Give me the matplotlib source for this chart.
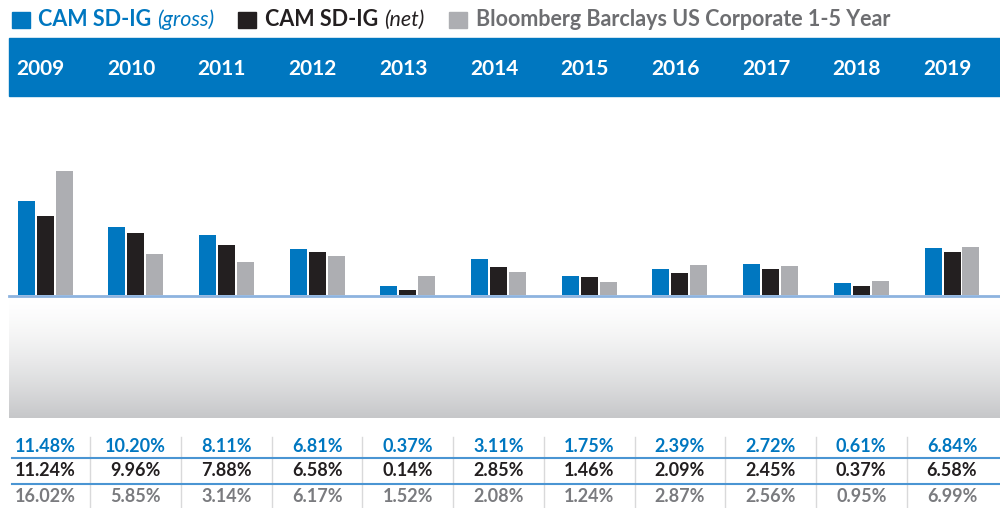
import matplotlib
matplotlib.use("Agg")
import matplotlib.pyplot as plt
import matplotlib.transforms as mtransforms
from matplotlib.patches import Rectangle
import numpy as np

plt.rcParams['font.family'] = ['Lato', 'DejaVu Sans']

# Data
years = ['2009', '2010', '2011', '2012', '2013', '2014', '2015', '2016', '2017', '2018', '2019']

# values printed in the table
gross_txt = ['11.48%', '10.20%', '8.11%', '6.81%', '0.37%', '3.11%', '1.75%', '2.39%', '2.72%', '0.61%', '6.84%']
net_txt = ['11.24%', '9.96%', '7.88%', '6.58%', '0.14%', '2.85%', '1.46%', '2.09%', '2.45%', '0.37%', '6.58%']
bench_txt = ['16.02%', '5.85%', '3.14%', '6.17%', '1.52%', '2.08%', '1.24%', '2.87%', '2.56%', '0.95%', '6.99%']

# bar heights as drawn in the picture (not strictly proportional to the table)
gross_bar = [12.14, 8.79, 7.75, 5.94, 1.16, 4.65, 2.45, 3.36, 4.01, 1.55, 6.07]
net_bar = [10.21, 8.01, 6.46, 5.56, 0.65, 3.62, 2.33, 2.84, 3.36, 1.16, 5.56]
bench_bar = [16.02, 5.30, 4.26, 5.04, 2.45, 2.97, 1.68, 3.88, 3.75, 1.81, 6.20]

series_names = ['CAM SD-IG', 'CAM SD-IG', 'Bloomberg Barclays US Corporate 1-5 Year']
series_notes = ['(gross)', '(net)', '']

BLUE = '#0077c0'
BLACK = '#231f20'
GREY = '#adaeb2'
GREY_TXT = '#7a7b7f'

W, H = 1000, 508
fig = plt.figure(figsize=(W / 100, H / 100), dpi=100)

def fy(py):
    # pixel row from top -> figure fraction
    return 1 - py / H

# header band
fig.patches.append(Rectangle((9 / W, fy(96)), 1 - 9 / W, (96 - 38) / H,
                             transform=fig.transFigure, color=BLUE, zorder=-1))

# gradient box below the baseline
gax = fig.add_axes([9 / W, fy(418), 1 - 9 / W, (418 - 297) / H])
t = np.linspace(0, 1, 200) ** 1.5
top = np.array([1.0, 1.0, 1.0])
bot = np.array([0xc6, 0xc7, 0xc9]) / 255
grad = top[None, :] * (1 - t[:, None]) + bot[None, :] * t[:, None]
gax.imshow(grad[:, None, :], aspect='auto', extent=[0, 1, 0, 1])
gax.axis('off')

# bar axes
ax = fig.add_axes([0, fy(295), 1, (295 - 96) / H])
step = 90.7
x0 = 45
ax.set_xlim(-x0 / step, (W - x0) / step)
ax.set_ylim(0, 199 / 7.74)
ax.axis('off')

x = np.arange(len(years))
bw = 17 / step
off = 19 / step
ax.bar(x - off, gross_bar, bw, color=BLUE, zorder=2)
ax.bar(x, net_bar, bw, color=BLACK, zorder=2)
ax.bar(x + off, bench_bar, bw, color=GREY, zorder=2)

# baseline
fig.add_artist(plt.Line2D([9 / W, 1], [fy(296), fy(296)], color='#8db3df', lw=2,
                          transform=fig.transFigure))

tr = mtransforms.blended_transform_factory(ax.transData, fig.transFigure)

# years in the header
for i, yr in enumerate(years):
    ax.text(i - 0.05, fy(69), yr, transform=tr, ha='center', va='center',
            color='white', fontsize=15, fontweight='bold')

# table rows
rows = [(gross_txt, BLUE, 446), (net_txt, BLACK, 471), (bench_txt, GREY_TXT, 497)]
for vals, col, py in rows:
    for i, v in enumerate(vals):
        ax.text(i, fy(py), v, transform=tr, ha='center', va='center',
                color=col, fontsize=13, fontweight='bold')

for py in (458, 484):
    fig.add_artist(plt.Line2D([12 / W, 1], [fy(py), fy(py)], color='#4a95d3', lw=1.5,
                              transform=fig.transFigure))

for i in range(len(years) - 1):
    ax.plot([i + 0.5, i + 0.5], [fy(437), 0], transform=tr, color='#d9d9da', lw=1,
            clip_on=False)

# legend
renderer = fig.canvas.get_renderer()
leg = [(12, BLUE, BLUE, 38), (238, BLACK, BLACK, 265), (449, GREY, '#6d6e71', 476)]
for k, (sx, sc, tc, tx) in enumerate(leg):
    fig.patches.append(Rectangle((sx / W, fy(28)), 18 / W, 16 / H,
                                 transform=fig.transFigure, color=sc))
    name = fig.text(tx / W, fy(20), series_names[k], color=tc, fontsize=15.5,
                    fontweight='bold', va='center', ha='left')
    if series_notes[k]:
        bb = name.get_window_extent(renderer)
        fig.text((bb.x1 + 6) / W, fy(20), series_notes[k], color=tc, fontsize=15.5,
                 style='italic', va='center', ha='left')

fig.savefig('out.png', dpi=100)
